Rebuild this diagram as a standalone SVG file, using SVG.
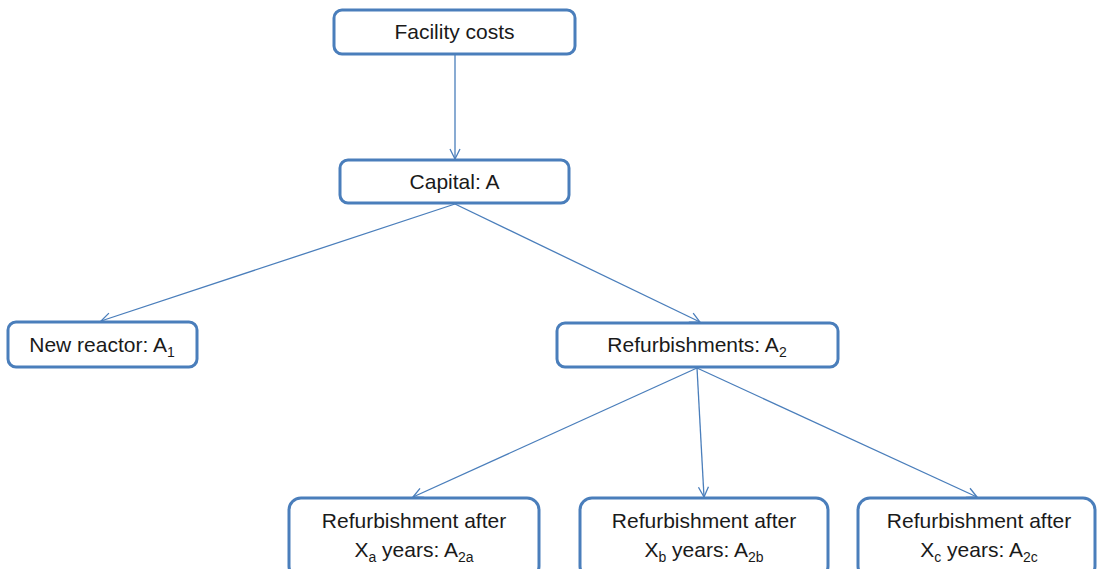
<svg xmlns="http://www.w3.org/2000/svg" width="1097" height="569" viewBox="0 0 1097 569">
  <style>
    .box { fill: #ffffff; stroke: #4a7ebb; stroke-width: 3; }
    .lbl { font-family: "Liberation Sans", Arial, sans-serif; font-size: 21px; fill: #1a1a1a; text-anchor: middle; }
    .sub { font-size: 14px; }
    .edge { fill: none; stroke: #4a7ebb; stroke-width: 1.3; marker-end: url(#arr); }
  </style>
  <defs>
    <marker id="arr" viewBox="0 0 12 12" refX="11" refY="6" markerWidth="12" markerHeight="12" markerUnits="userSpaceOnUse" orient="auto">
      <path d="M1,1 L11,6 L1,11" fill="none" stroke="#4a7ebb" stroke-width="1.3"/>
    </marker>
  </defs>
  <rect width="1097" height="569" fill="#ffffff"/>

  <g id="connectors">
    <line class="edge" x1="455" y1="55" x2="455" y2="159"/>
    <line class="edge" x1="455" y1="204" x2="101" y2="321"/>
    <line class="edge" x1="455" y1="204" x2="700" y2="322"/>
    <line class="edge" x1="697" y1="368" x2="413" y2="497"/>
    <line class="edge" x1="697" y1="368" x2="704" y2="497"/>
    <line class="edge" x1="697" y1="368" x2="977" y2="497"/>
  </g>

  <g id="facility">
    <rect class="box" x="334" y="10" width="241" height="44" rx="8"/>
    <text class="lbl" x="454.5" y="39">Facility costs</text>
  </g>
  <g id="capital">
    <rect class="box" x="340" y="160" width="229" height="43" rx="8"/>
    <text class="lbl" x="454.5" y="189">Capital: A</text>
  </g>
  <g id="new-reactor">
    <rect class="box" x="8" y="322" width="189" height="45" rx="8"/>
    <text class="lbl" x="102" y="352">New reactor: A<tspan class="sub" dy="5">1</tspan></text>
  </g>
  <g id="refurbishments">
    <rect class="box" x="557" y="323" width="281" height="44" rx="8"/>
    <text class="lbl" x="697" y="352">Refurbishments: A<tspan class="sub" dy="5">2</tspan></text>
  </g>
  <g id="refurb-a">
    <rect class="box" x="289" y="498" width="250" height="80" rx="12"/>
    <text class="lbl" x="414" y="528">Refurbishment after</text>
    <text class="lbl" x="414" y="557">X<tspan class="sub" dy="5">a</tspan><tspan dy="-5"> years: A</tspan><tspan class="sub" dy="5">2a</tspan></text>
  </g>
  <g id="refurb-b">
    <rect class="box" x="580" y="498" width="248" height="80" rx="12"/>
    <text class="lbl" x="704" y="528">Refurbishment after</text>
    <text class="lbl" x="704" y="557">X<tspan class="sub" dy="5">b</tspan><tspan dy="-5"> years: A</tspan><tspan class="sub" dy="5">2b</tspan></text>
  </g>
  <g id="refurb-c">
    <rect class="box" x="858" y="498" width="237" height="80" rx="12"/>
    <text class="lbl" x="979" y="528">Refurbishment after</text>
    <text class="lbl" x="979" y="557">X<tspan class="sub" dy="5">c</tspan><tspan dy="-5"> years: A</tspan><tspan class="sub" dy="5">2c</tspan></text>
  </g>
</svg>
